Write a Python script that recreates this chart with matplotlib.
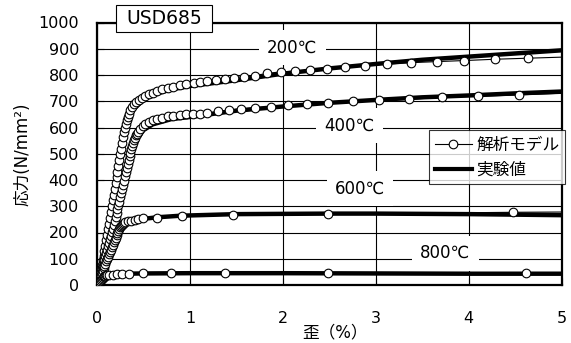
import matplotlib
matplotlib.use("Agg")
import matplotlib.pyplot as plt
from matplotlib.patches import Rectangle

plt.rcParams['font.family'] = ['DejaVu Sans', 'Noto Sans CJK JP']

# analysis model (circles), strain in %, stress in N/mm2
model_200_strain = [0, 0.01, 0.02, 0.03, 0.04, 0.05, 0.06, 0.07, 0.08, 0.09, 0.10, 0.11, 0.12,
                    0.13, 0.14, 0.15, 0.16, 0.17, 0.18, 0.19, 0.20, 0.21, 0.22, 0.23, 0.24, 0.25,
                    0.26, 0.27, 0.28, 0.29, 0.30, 0.31, 0.32, 0.33, 0.34, 0.36, 0.38, 0.40, 0.42,
                    0.45, 0.48, 0.52, 0.56, 0.60, 0.65, 0.70, 0.76, 0.82, 0.89, 0.96, 1.04, 1.11,
                    1.18, 1.28, 1.38, 1.47, 1.58, 1.70, 1.83, 1.98, 2.13, 2.29, 2.48, 2.67, 2.88,
                    3.12, 3.38, 3.66, 3.95, 4.28, 4.64, 5.00]
model_200_stress = [0, 15, 30, 45, 62, 78, 95, 112, 130, 150, 170, 190, 212,
                    234, 256, 278, 300, 322, 344, 366, 388, 410, 432, 454, 476, 498,
                    520, 542, 562, 582, 600, 615, 628, 640, 650, 665, 678, 688, 696,
                    705, 712, 720, 727, 733, 739, 745, 751, 756, 762, 767, 770, 772,
                    779, 782, 786, 790, 794, 798, 806, 812, 814, 819, 824, 829, 835,
                    842, 847, 851, 855, 860, 864, 868]

model_400_strain = [0, 0.01, 0.02, 0.03, 0.04, 0.05, 0.06, 0.07, 0.08, 0.09, 0.10, 0.11, 0.12,
                    0.13, 0.14, 0.15, 0.16, 0.17, 0.18, 0.19, 0.20, 0.21, 0.22, 0.23, 0.24, 0.25,
                    0.26, 0.27, 0.28, 0.29, 0.30, 0.31, 0.32, 0.33, 0.34, 0.35, 0.36, 0.37, 0.38,
                    0.39, 0.40, 0.41, 0.42, 0.43, 0.44, 0.46, 0.49, 0.52, 0.56, 0.60, 0.65, 0.70,
                    0.76, 0.82, 0.89, 0.96, 1.03, 1.11, 1.18, 1.30, 1.42, 1.55, 1.70, 1.87, 2.06,
                    2.26, 2.49, 2.76, 3.04, 3.36, 3.71, 4.10, 4.54, 5.00]
model_400_stress = [0, 12, 24, 36, 48, 60, 72, 84, 97, 110, 122, 135, 148,
                    161, 174, 188, 201, 215, 229, 243, 258, 273, 288, 303, 318, 334,
                    350, 366, 382, 398, 414, 430, 446, 461, 476, 490, 504, 517, 530,
                    541, 552, 561, 570, 577, 584, 595, 606, 614, 622, 628, 634, 638,
                    642, 645, 648, 650, 652, 653, 655, 661, 667, 671, 675, 680, 686,
                    689, 693, 700, 704, 707, 715, 719, 724, 730]

model_600_strain = [0, 0.01, 0.02, 0.03, 0.04, 0.05, 0.06, 0.07, 0.08, 0.09, 0.10, 0.11, 0.12,
                    0.13, 0.14, 0.15, 0.16, 0.17, 0.18, 0.19, 0.20, 0.21, 0.22, 0.23, 0.24, 0.25,
                    0.26, 0.27, 0.28, 0.29, 0.30, 0.33, 0.37, 0.41, 0.44, 0.50, 0.65, 0.92, 1.46,
                    2.49, 4.48, 5.00]
model_600_stress = [0, 9, 18, 27, 36, 45, 54, 63, 72, 81, 90, 99, 108,
                    117, 126, 135, 144, 153, 162, 171, 180, 189, 198, 206, 214, 220,
                    226, 230, 234, 237, 239, 242, 245, 248, 251, 254, 256, 262, 266,
                    270, 277, 278]

model_800_strain = [0, 0.01, 0.02, 0.03, 0.04, 0.05, 0.06, 0.07, 0.08, 0.09, 0.10, 0.11, 0.13,
                    0.17, 0.21, 0.27, 0.34, 0.50, 0.80, 1.38, 2.49, 4.62, 5.00]
model_800_stress = [0, 5, 10, 15, 20, 24, 28, 31, 34, 36, 37, 38, 39,
                    40, 41, 41, 42, 44, 45, 45, 44, 45, 45]

# test results (thick lines)
test_200_strain = [0, 0.05, 0.1, 0.15, 0.2, 0.25, 0.3, 0.35, 0.4, 0.5, 0.6, 0.8, 1.0, 1.5, 2.0,
                   2.5, 3.0, 3.5, 4.0, 4.5, 5.0]
test_200_stress = [0, 75, 160, 260, 370, 480, 580, 640, 672, 705, 725, 745, 758, 780, 805,
                   825, 842, 858, 870, 882, 894]

test_400_strain = [0, 0.05, 0.1, 0.15, 0.2, 0.25, 0.3, 0.35, 0.4, 0.5, 0.6, 0.8, 1.0, 1.5, 2.0,
                   2.5, 3.0, 3.5, 4.0, 4.5, 5.0]
test_400_stress = [0, 58, 118, 185, 255, 330, 405, 480, 540, 590, 612, 632, 640, 664, 680,
                   694, 705, 715, 722, 730, 737]

test_600_strain = [0, 0.05, 0.1, 0.15, 0.2, 0.25, 0.3, 0.4, 0.5, 0.65, 0.9, 1.5, 2.0, 2.5, 3.0,
                   3.5, 4.0, 4.5, 5.0]
test_600_stress = [0, 42, 88, 135, 178, 212, 232, 246, 252, 258, 264, 270, 271, 272, 272,
                   271, 270, 268, 266]

test_800_strain = [0, 0.03, 0.06, 0.1, 0.15, 0.2, 0.3, 0.5, 1, 2, 3, 4, 5]
test_800_stress = [0, 20, 32, 38, 40, 42, 43, 44, 45, 45, 44, 43, 43]

temp_labels = ['200℃', '400℃', '600℃', '800℃']
label_x = [2.10, 2.72, 2.83, 3.75]
label_y = [904, 608, 368, 121]

x_ticks = [0, 1, 2, 3, 4, 5]
y_ticks = list(range(0, 1001, 100))

W, H = 571, 343
fig = plt.figure(figsize=(W / 100, H / 100), dpi=100)
ax = fig.add_axes([97 / W, 1 - 285 / H, 464.5 / W, 262.5 / H])

model = [(model_200_strain, model_200_stress), (model_400_strain, model_400_stress),
         (model_600_strain, model_600_stress), (model_800_strain, model_800_stress)]
test = [(test_200_strain, test_200_stress), (test_400_strain, test_400_stress),
        (test_600_strain, test_600_stress), (test_800_strain, test_800_stress)]

for xs, ys in test:
    ax.plot(xs, ys, color='black', lw=3.2, solid_capstyle='butt', zorder=3)
for xs, ys in model:
    # last point closes the line at 5% without a marker
    ax.plot(xs, ys, color='black', lw=0.8, marker='o', ms=6.2, mfc='white', mec='black',
            mew=0.8, markevery=list(range(len(xs) - 1)), zorder=4)

for txt, x, y in zip(temp_labels, label_x, label_y):
    ax.text(x, y, txt, fontsize=12, ha='center', va='center', zorder=2,
            bbox=dict(facecolor='white', edgecolor='none', pad=6))

ax.set_xlim(0, 5)
ax.set_ylim(0, 1000)
ax.set_xticks(x_ticks)
ax.set_yticks(y_ticks)
ax.grid(True, color='black', lw=0.8, zorder=0)
ax.set_axisbelow(True)
for sp in ax.spines.values():
    sp.set_linewidth(1.6)
ax.tick_params(axis='x', direction='in', length=5, width=0.8, labelsize=11.5, pad=19)
ax.tick_params(axis='y', direction='in', length=5, width=0.8, labelsize=11.5, pad=13)

ax.set_xlabel('歪（%）', fontsize=12)
ax.xaxis.set_label_coords((335 - 97) / 464.5, (285 - 323) / 262.5)
ax.set_ylabel('応力(N/mm²)', fontsize=12)
ax.yaxis.set_label_coords((31 - 97) / 464.5, 0.5)

# legend handles
h_model, = ax.plot([], [], color='black', lw=0.8, marker='o', ms=6.2, mfc='white', mec='black', mew=0.8)
h_test, = ax.plot([], [], color='black', lw=3.0)
leg = fig.legend([h_model, h_test], ['解析モデル', '実験値'], loc='upper left',
                 bbox_to_anchor=(429 / W, 1 - 130 / H), fontsize=12, frameon=True,
                 fancybox=False, handlelength=2.2, handletextpad=0.3, borderpad=0.35,
                 labelspacing=0.4, borderaxespad=0)
leg.get_frame().set_edgecolor('black')
leg.get_frame().set_linewidth(0.8)

# steel grade tag sitting over the top edge
fig.add_artist(Rectangle((116 / W, 1 - 32 / H), 96 / W, 27 / H, transform=fig.transFigure,
                         facecolor='white', edgecolor='black', lw=0.8, zorder=5))
fig.text(164 / W, 1 - 19 / H, 'USD685', fontsize=13.5, ha='center', va='center', zorder=6)

fig.savefig('out.png', dpi=100)
